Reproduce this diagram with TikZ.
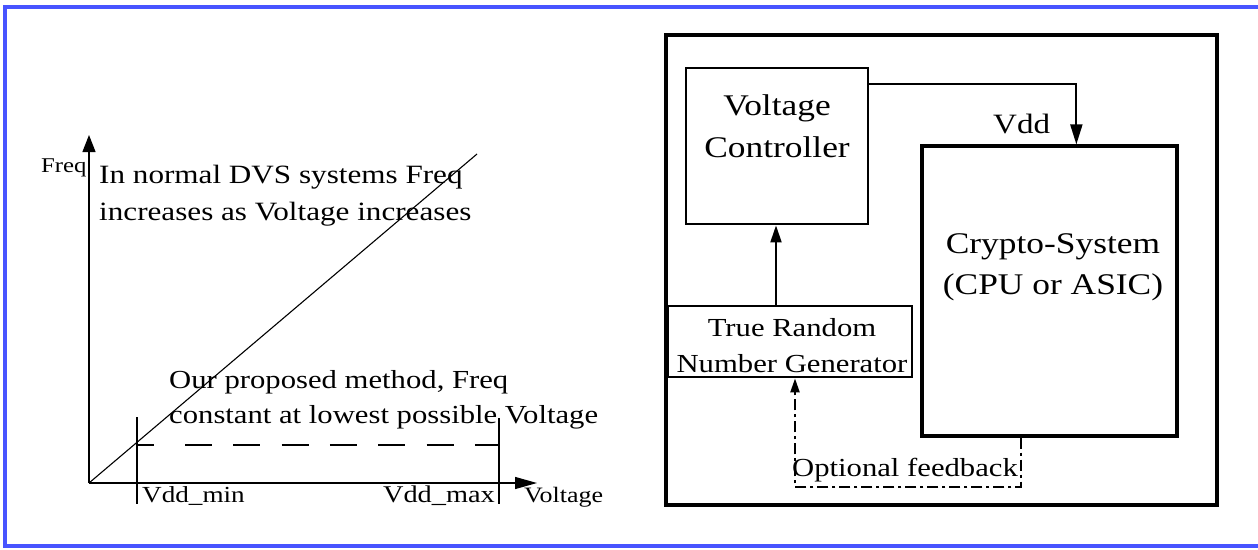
\documentclass[tikz,border=0pt]{standalone}
\usepackage{fontspec}
\setmainfont{Liberation Serif}[FakeStretch=1.18]
\usetikzlibrary{arrows.meta,calc}
\definecolor{frameblue}{RGB}{72,84,255}
\begin{document}
\begin{tikzpicture}[x=1pt,y=-1pt,
  blockbox/.style={draw, line width=2.8pt, inner sep=0pt},
  blocktext/.style={align=center, inner sep=0pt},
  axisline/.style={line width=1.3pt},
  yaxisarrow/.style={axisline, -{Triangle[length=17pt,width=13pt]}},
  xaxisarrow/.style={axisline, -{Triangle[length=22pt,width=12pt]}},
  boundline/.style={line width=1.3pt},
  flowarrow/.style={line width=2pt, -{Triangle[length=20pt,width=12pt]}},
  feedback/.style={line width=2.2pt, dash pattern=on 11pt off 4pt on 3pt off 4pt,
                   -{Triangle[length=14pt,width=9pt]}},
  bigtext/.style={font=\fontsize{30}{42}\selectfont},
  midtext/.style={font=\fontsize{26}{36}\selectfont},
  smalltext/.style={font=\fontsize{23}{30}\selectfont},
  tinytext/.style={font=\fontsize{21}{26}\selectfont}
]
\useasboundingbox (0,0) rectangle (1258,549);

% outer frame, open on the right
\begin{scope}
\clip (0,0) rectangle (1258,549);
\draw[frameblue, line width=4pt] (1270,7) -- (5,7) -- (5,546) -- (1270,546);
\end{scope}

% ---------------- left: frequency / voltage graph ----------------
\coordinate (origin) at (89,483);
\coordinate (ytip) at (89,135);
\coordinate (xtip) at (537,483);
\coordinate (diagend) at (477,154);
\draw[yaxisarrow] (origin) -- (ytip);
\draw[xaxisarrow] (origin) -- (xtip);
\draw[line width=1.1pt] (origin) -- (diagend);

\coordinate (vminTop) at (137,417);
\coordinate (vminBot) at (137,504);
\coordinate (vmaxTop) at (499,418);
\coordinate (vmaxBot) at (499,504);
\draw[boundline] (vminTop) -- (vminBot);
\draw[boundline] (vmaxTop) -- (vmaxBot);
\draw[line width=2.4pt,
      dash pattern=on 17pt off 31pt on 27pt off 21.3pt on 27pt off 21.3pt
                   on 27pt off 21.3pt on 27pt off 21.3pt on 27pt off 21.3pt
                   on 27pt off 21.3pt on 27pt off 40pt]
  (vminTop |- 0,445) -- (vmaxTop |- 0,445);

\node[tinytext, anchor=base west, inner sep=0pt] (freqlbl) at (41,172) {Freq};
\node[tinytext, font=\fontsize{22}{26}\selectfont, anchor=base west, inner sep=0pt] (voltlbl) at (524,502) {Voltage};
\node[smalltext, anchor=base west, inner sep=0pt] (vminlbl) at (142,502) {Vdd\_min};
\node[smalltext, font=\fontsize{24}{30}\selectfont, anchor=base east, inner sep=0pt] (vmaxlbl) at (495,502) {Vdd\_max};

\node[align=left, anchor=west, inner sep=0pt,
      font=\fontsize{26.4}{37}\selectfont] (dvsnote) at (99,195.4)
  {In normal DVS systems Freq\\increases as Voltage increases};
\node[align=left, anchor=west, inner sep=0pt,
      font=\fontsize{26}{35}\selectfont] (ournote) at (169,399.4)
  {Our proposed method, Freq\\constant at lowest possible Voltage};

% ---------------- right: system block diagram ----------------
\node[draw, line width=3.6pt, minimum width=551pt, minimum height=470pt,
      inner sep=0pt] (sys) at (941.5,270) {};

\node[blockbox, minimum width=182pt, minimum height=156pt] (vc) at (777,146) {};
\node[blocktext, bigtext] (vctext) at (777,125.8) {Voltage\\Controller};

\node[blockbox, line width=3.2pt, minimum width=255pt, minimum height=290pt] (crypto) at (1049.5,291) {};
\node[blocktext, font=\fontsize{30}{41}\selectfont] (cryptotext) at (1053,267) {Crypto-System\\(CPU or ASIC)};

\node[blockbox, minimum width=244pt, minimum height=71pt] (trng) at (790,341.5) {};
\node[blocktext, midtext] (trngtext) at (792,346.1) {True Random\\Number Generator};

% supply voltage from controller to crypto-system
\draw[flowarrow] (vc.east |- 0,84) -| ($(crypto.north west)!0.604!(crypto.north east)$);
\node[font=\fontsize{28}{34}\selectfont, anchor=base west, inner sep=0pt] (vddlbl) at (993,133) {Vdd};

% random number generator drives the controller
\draw[flowarrow, -{Triangle[length=17pt,width=11pt]}] (776,0 |- trng.north) -- (776,0 |- vc.south);

% optional feedback path
\coordinate (fbturn) at (1021,487);
\draw[feedback] (crypto.south -| fbturn) -- (fbturn) -| (trng.south -| 795,0);
\node[midtext, anchor=base, inner sep=0pt] (fblbl) at (905,476) {Optional feedback};
\end{tikzpicture}
\end{document}
